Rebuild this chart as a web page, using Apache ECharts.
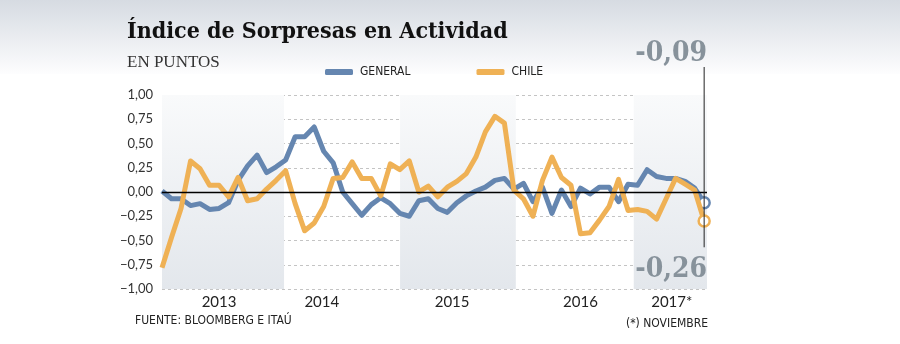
<!DOCTYPE html>
<html>
<head>
<meta charset="utf-8">
<script src="https://cdn.jsdelivr.net/npm/echarts@6/dist/echarts.min.js"></script>
<style>
html,body{margin:0;padding:0;background:#fff;}
#c{width:900px;height:344px;}
</style>
</head>
<body>
<div id="c"></div>
<script>
// ---- data ----
const seriesNames = ['GENERAL', 'CHILE'];
const general = [0.01,-0.07,-0.07,-0.14,-0.12,-0.18,-0.17,-0.11,0.12,0.27,0.38,0.20,0.26,0.33,0.57,0.57,0.67,0.42,0.30,0.00,-0.12,-0.24,-0.13,-0.06,-0.12,-0.22,-0.25,-0.09,-0.07,-0.17,-0.21,-0.11,-0.04,0.01,0.05,0.12,0.14,0.03,0.09,-0.10,0.05,-0.22,0.02,-0.15,0.04,-0.02,0.05,0.05,-0.10,0.08,0.07,0.23,0.16,0.14,0.14,0.11,0.04,-0.11];
const chile = [-0.78,-0.47,-0.17,0.32,0.24,0.07,0.07,-0.05,0.15,-0.09,-0.07,0.03,0.12,0.22,-0.12,-0.40,-0.32,-0.15,0.14,0.15,0.31,0.14,0.14,-0.04,0.29,0.23,0.32,0.00,0.06,-0.05,0.05,0.11,0.19,0.36,0.62,0.78,0.71,0.02,-0.07,-0.25,0.12,0.36,0.15,0.07,-0.43,-0.42,-0.29,-0.15,0.13,-0.19,-0.18,-0.20,-0.28,-0.07,0.14,0.08,0.02,-0.30];
const yearLabels = ['2013', '2014', '2015', '2016', '2017*'];
const yearLabelPos = [6.0, 16.8, 30.5, 44.0, 53.6];
const bandRanges = [[0, 12.83], [25.03, 37.2], [49.6, 57.3]];
const lastGeneralText = '-0,09';
const lastChileText = '-0,26';

const BLUE = '#6586b0';
const ORANGE = '#efb155';
const XMAX = 57.3;

function toPairs(arr, color) {
  return arr.map((v, i) => {
    if (i === arr.length - 1) {
      return { value: [i, v], symbol: 'circle', symbolSize: 11,
        itemStyle: { color: '#fff', borderColor: color, borderWidth: 2.5 } };
    }
    return [i, v];
  });
}

const bandGrad = new echarts.graphic.LinearGradient(0, 0, 0, 1, [
  { offset: 0, color: '#f9fafb' }, { offset: 1, color: '#e3e7ec' }
]);

const chart = echarts.init(document.getElementById('c'), null, { renderer: 'canvas' });

const option = {
  animation: false,
  backgroundColor: '#ffffff',
  grid: { left: 162, right: 193, top: 95, bottom: 55, containLabel: false },
  legend: {
    left: 320, top: 61, itemWidth: 28, itemHeight: 6, itemGap: 66,
    icon: 'roundRect',
    textStyle: { fontFamily: 'DejaVu Sans Condensed, DejaVu Sans', fontSize: 12, color: '#222', padding: [0, 0, 0, 2] },
    data: seriesNames
  },
  xAxis: {
    type: 'value', min: 0, max: XMAX,
    axisLine: { show: false }, axisTick: { show: false }, splitLine: { show: false },
    axisLabel: {
      show: true, margin: 6, customValues: yearLabelPos,
      formatter: function (v) {
        const k = yearLabelPos.findIndex(p => Math.abs(p - v) < 1e-6);
        return k >= 0 ? yearLabels[k] : '';
      },
      fontFamily: 'Lato', fontSize: 15, color: '#222'
    }
  },
  yAxis: {
    type: 'value', min: -1, max: 1, interval: 0.25,
    axisLine: { show: false }, axisTick: { show: false },
    splitLine: { show: true, lineStyle: { color: '#c4c4c4', type: [3, 3], width: 1 } },
    axisLabel: {
      margin: 9, fontFamily: 'Lato', fontSize: 13, color: '#333',
      formatter: v => (v < 0 ? '\u2212' : '') + Math.abs(v).toFixed(2).replace('.', ',')
    }
  },
  series: [
    {
      name: seriesNames[0], type: 'line', data: toPairs(general, BLUE),
      symbol: 'none', symbolSize: 0, showAllSymbol: true,
      itemStyle: { color: BLUE },
      lineStyle: { color: BLUE, width: 5, join: 'round' },
      z: 3,
      markArea: {
        silent: true,
        itemStyle: { color: bandGrad },
        data: bandRanges.map(r => [{ xAxis: r[0], yAxis: 1 }, { xAxis: r[1], yAxis: -1 }])
      },
      markLine: {
        silent: true, symbol: 'none', label: { show: false },
        lineStyle: { color: '#000', type: 'solid', width: 1.3 },
        data: [{ yAxis: 0 }]
      }
    },
    {
      name: seriesNames[1], type: 'line', data: toPairs(chile, ORANGE),
      symbol: 'none', symbolSize: 0, showAllSymbol: true,
      itemStyle: { color: ORANGE },
      lineStyle: { color: ORANGE, width: 5, join: 'round' },
      z: 4
    }
  ]
};
chart.setOption(option);

const lastIdx = general.length - 1;
const px = chart.convertToPixel({ gridIndex: 0 }, [lastIdx, 0]);
const pLow = chart.convertToPixel({ gridIndex: 0 }, [lastIdx, -0.57]);

chart.setOption({
  graphic: [
    {
      type: 'rect', z: -10, silent: true,
      shape: { x: 0, y: 0, width: 900, height: 74 },
      style: { fill: new echarts.graphic.LinearGradient(0, 0, 0, 1, [
        { offset: 0, color: '#d6dbe2' }, { offset: 1, color: '#fdfdfe' }]) }
    },
    {
      type: 'text', left: 127, top: 21, silent: true,
      style: { text: 'Índice de Sorpresas en Actividad', font: 'bold 23px "DejaVu Serif Condensed", "DejaVu Serif"', fill: '#111' }
    },
    {
      type: 'text', left: 127, top: 54, silent: true,
      style: { text: 'EN PUNTOS', font: '17px "Liberation Serif"', fill: '#333' }
    },
    {
      type: 'line', silent: true, z: 10,
      shape: { x1: px[0], y1: 67, x2: px[0], y2: pLow[1] },
      style: { stroke: '#222', lineWidth: 1 }
    },
    {
      type: 'text', silent: true, z: 11,
      x: 707, y: 54,
      style: { text: lastGeneralText, font: 'bold 28px "DejaVu Serif Condensed", "DejaVu Serif"', fill: '#87929b', align: 'right', verticalAlign: 'middle' }
    },
    {
      type: 'text', silent: true, z: 11,
      x: 707, y: 270,
      style: { text: lastChileText, font: 'bold 28px "DejaVu Serif Condensed", "DejaVu Serif"', fill: '#87929b', align: 'right', verticalAlign: 'middle' }
    },
    {
      type: 'text', silent: true, x: 135, y: 321,
      style: { text: 'FUENTE: BLOOMBERG E ITAÚ', font: '12px "DejaVu Sans Condensed", "DejaVu Sans"', fill: '#222', verticalAlign: 'middle' }
    },
    {
      type: 'text', silent: true, x: 708, y: 324,
      style: { text: '(*) NOVIEMBRE', font: '12px "DejaVu Sans Condensed", "DejaVu Sans"', fill: '#222', align: 'right', verticalAlign: 'middle' }
    }
  ]
});
</script>
</body>
</html>
